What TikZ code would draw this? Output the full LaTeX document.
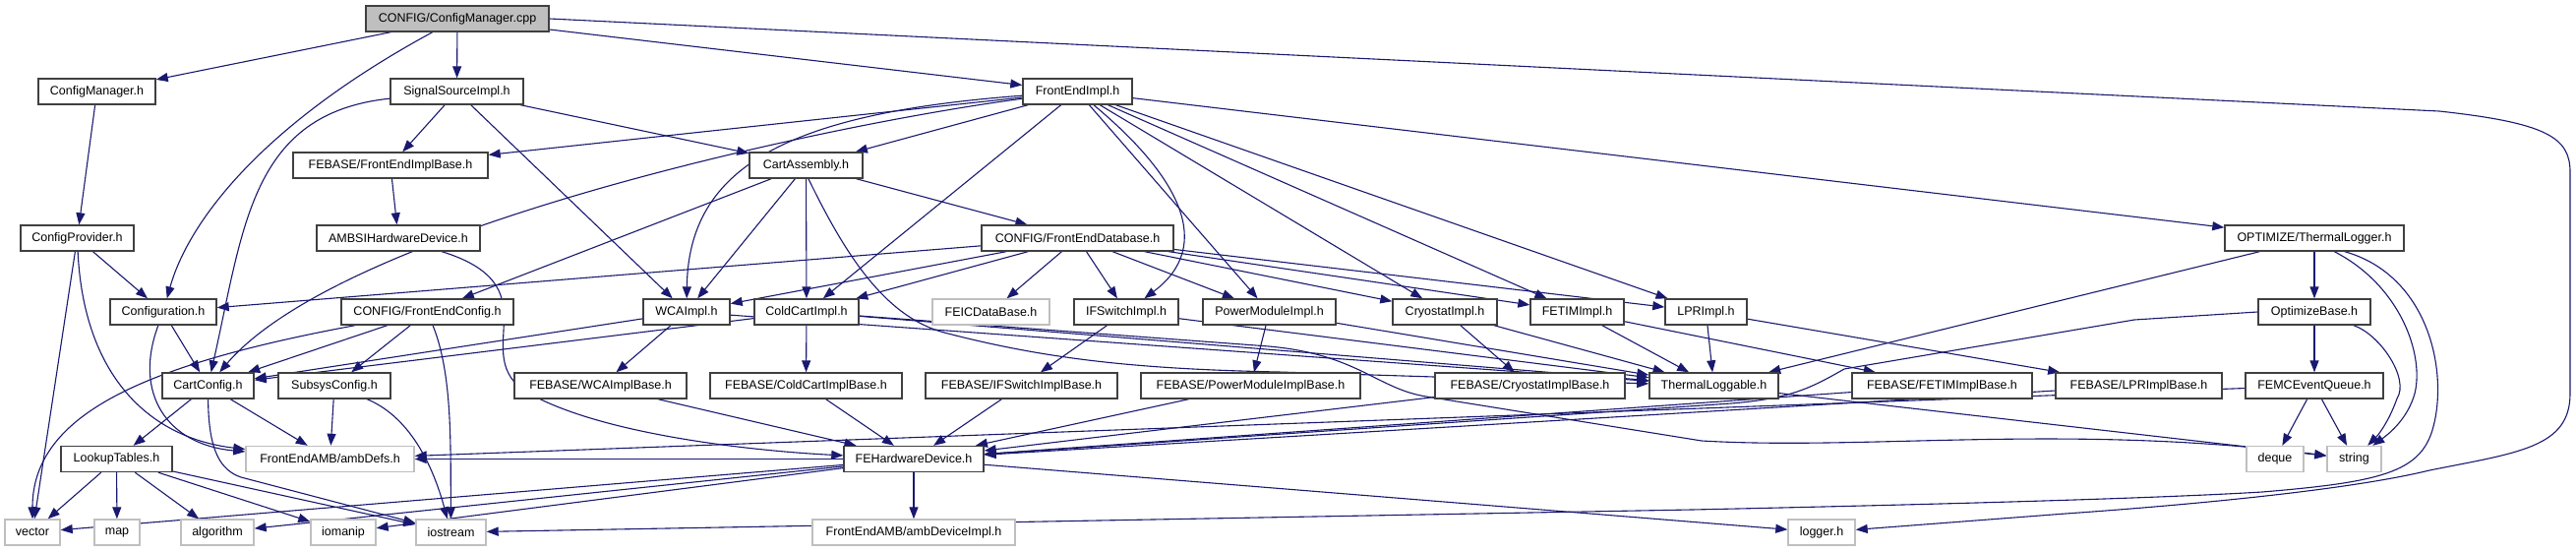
\documentclass[tikz,border=0pt]{standalone}
\usepackage{fontspec}
\setmainfont{Liberation Sans}
\usetikzlibrary{arrows.meta}
\definecolor{edgec}{HTML}{191970}
\definecolor{rootfill}{HTML}{BFBFBF}
\definecolor{gborder}{HTML}{BFBFBF}
\definecolor{bborder}{HTML}{404040}
\pgfdeclarelayer{edges}
\pgfsetlayers{edges,main}
\begin{document}
\begin{tikzpicture}[x=1pt,y=-1pt,
  box/.style={draw=bborder, line width=1.4pt, fill=white, minimum height=26pt, inner sep=0pt, font=\fontsize{12.5}{15}\selectfont},
  gbox/.style={box, draw=gborder},
  rootbox/.style={box, fill=rootfill},
  dep/.style={draw=edgec, line width=1.1pt, -{Triangle[length=12pt,width=9pt]}}]
\useasboundingbox (0,0) rectangle (2619,560);
% row 0
\node[rootbox, minimum width=186pt] (root) at (465,19) {CONFIG/ConfigManager.cpp};
% row 1
\node[box, minimum width=119pt] (cmh) at (98.5,93) {ConfigManager.h};
\node[box, minimum width=135pt] (ssi) at (464.5,93) {SignalSourceImpl.h};
\node[box, minimum width=111pt] (fei) at (1095.5,93) {FrontEndImpl.h};
% row 2
\node[box, minimum width=198pt] (feib) at (397,168) {FEBASE/FrontEndImplBase.h};
\node[box, minimum width=115pt] (ca) at (819.5,168) {CartAssembly.h};
% row 3
\node[box, minimum width=115pt] (cp) at (78.5,242) {ConfigProvider.h};
\node[box, minimum width=166pt] (ambsi) at (405,242) {AMBSIHardwareDevice.h};
\node[box, minimum width=195pt] (fedb) at (1095.5,242) {CONFIG/FrontEndDatabase.h};
\node[box, minimum width=182pt] (tl) at (2353,242) {OPTIMIZE/ThermalLogger.h};
% row 4
\node[box, minimum width=108pt] (conf) at (166,317) {Configuration.h};
\node[box, minimum width=175pt] (fec) at (434.5,317) {CONFIG/FrontEndConfig.h};
\node[box, minimum width=88pt] (wca) at (698,317) {WCAImpl.h};
\node[box, minimum width=106pt] (cc) at (820,317) {ColdCartImpl.h};
\node[gbox, minimum width=119pt] (feic) at (1007.5,317) {FEICDataBase.h};
\node[box, minimum width=106pt] (ifs) at (1145,317) {IFSwitchImpl.h};
\node[box, minimum width=135pt] (pm) at (1290.5,317) {PowerModuleImpl.h};
\node[box, minimum width=106pt] (cry) at (1469,317) {CryostatImpl.h};
\node[box, minimum width=95pt] (fetim) at (1603.5,317) {FETIMImpl.h};
\node[box, minimum width=83pt] (lpr) at (1734.5,317) {LPRImpl.h};
\node[box, minimum width=114pt] (ob) at (2353,317) {OptimizeBase.h};
% row 5
\node[box, minimum width=93pt] (cc2) at (211.5,392) {CartConfig.h};
\node[box, minimum width=114pt] (ss) at (340,392) {SubsysConfig.h};
\node[box, minimum width=175pt] (wcab) at (610.5,392) {FEBASE/WCAImplBase.h};
\node[box, minimum width=195pt] (ccb) at (819.5,392) {FEBASE/ColdCartImplBase.h};
\node[box, minimum width=195pt] (ifsb) at (1038.5,392) {FEBASE/IFSwitchImplBase.h};
\node[box, minimum width=223pt] (pmb) at (1271.5,392) {FEBASE/PowerModuleImplBase.h};
\node[box, minimum width=193pt] (cryb) at (1555.5,392) {FEBASE/CryostatImplBase.h};
\node[box, minimum width=131pt] (tlg) at (1742.5,392) {ThermalLoggable.h};
\node[box, minimum width=183pt] (fetimb) at (1974.5,392) {FEBASE/FETIMImplBase.h};
\node[box, minimum width=169pt] (lprb) at (2174.5,392) {FEBASE/LPRImplBase.h};
\node[box, minimum width=140pt] (femc) at (2353,392) {FEMCEventQueue.h};
% row 6
\node[box, minimum width=113pt] (lt) at (118.5,466.5) {LookupTables.h};
\node[gbox, minimum width=171pt] (amb) at (335.5,466.5) {FrontEndAMB/ambDefs.h};
\node[box, minimum width=142pt] (fehw) at (929,466.5) {FEHardwareDevice.h};
\node[gbox, minimum width=58pt] (deq) at (2313,466.5) {deque};
\node[gbox, minimum width=55pt] (str) at (2393.5,466.5) {string};
% row 7
\node[gbox, minimum width=56pt] (vec) at (33,541) {vector};
\node[gbox, minimum width=46pt] (map) at (119,541) {map};
\node[gbox, minimum width=74pt] (alg) at (221,541) {algorithm};
\node[gbox, minimum width=66pt] (ioman) at (349,541) {iomanip};
\node[gbox, minimum width=71pt] (ios) at (458.5,541) {iostream};
\node[gbox, minimum width=206pt] (ambdi) at (929,541) {FrontEndAMB/ambDeviceImpl.h};
\node[gbox, minimum width=68pt] (log) at (1852,541) {logger.h};

\begin{pgfonlayer}{edges}
\fill[white] (0,0) rectangle (2619,560);
% root
\draw[dep] (root) -- (cmh);
\draw[dep] (root) -- (ssi);
\draw[dep] (root) -- (fei);
\draw[dep] (root) .. controls (260,130) and (190,230) .. (conf);
\draw[dep] (root.east) -- (2480,113) .. controls (2590,125) and (2613,140) .. (2613,175) -- (2613,400)
   .. controls (2613,455) and (2560,460) .. (2470,478) .. controls (2380,500) and (2200,515) .. (2100,522) -- (log);
% ConfigManager / ConfigProvider
\draw[dep] (cmh) -- (cp);
\draw[dep] (cp) -- (conf);
\draw[dep] (cp) -- (vec);
\draw[dep] (cp) .. controls (85,380) and (150,445) .. (amb);
% SignalSourceImpl
\draw[dep] (ssi) -- (feib);
\draw[dep] (ssi) -- (ca);
\draw[dep] (ssi) -- (wca);
\draw[dep] (ssi) .. controls (255,115) and (248,230) .. (cc2);
% FrontEndImpl
\draw[dep] (fei) -- (feib);
\draw[dep] (fei) -- (ca);
\draw[dep] (fei) .. controls (850,125) and (350,230) .. (cc2);
\draw[dep] (fei) .. controls (800,115) and (700,170) .. (wca);
\draw[dep] (fei) -- (cc);
\draw[dep] (fei) .. controls (1200,180) and (1235,250) .. (ifs);
\draw[dep] (fei) -- (pm);
\draw[dep] (fei) -- (cry);
\draw[dep] (fei) -- (fetim);
\draw[dep] (fei) -- (lpr);
\draw[dep] (fei) -- (tl);
% FrontEndImplBase
\draw[dep] (feib) -- (ambsi);
\draw[dep] (ambsi) .. controls (560,290) and (480,355) .. (530,395) .. controls (600,440) and (760,458) .. (fehw);
% CartAssembly
\draw[dep] (ca) -- (fedb);
\draw[dep] (ca) -- (fec);
\draw[dep] (ca) -- (wca);
\draw[dep] (ca) -- (cc);
\draw[dep] (ca.-80) .. controls (860,260) and (900,322) .. (960,338) .. controls (1060,364) and (1150,375) .. (1300,378) -- (tlg);
% FrontEndDatabase
\draw[dep] (fedb) -- (conf);
\draw[dep] (fedb) -- (wca);
\draw[dep] (fedb) -- (cc);
\draw[dep] (fedb) -- (feic);
\draw[dep] (fedb) -- (ifs);
\draw[dep] (fedb) -- (pm);
\draw[dep] (fedb) -- (cry);
\draw[dep] (fedb) -- (fetim);
\draw[dep] (fedb) -- (lpr);
% ThermalLogger
\draw[dep] (tl) -- (tlg);
\draw[dep] (tl) -- (ob);
\draw[dep] (tl.-34) .. controls (2440,290) and (2465,360) .. (2455,400) .. controls (2448,425) and (2430,440) .. (str);
\draw[dep] (tl.-24) .. controls (2470,280) and (2490,380) .. (2473,437) .. controls (2460,480) and (2420,490) .. (2300,500)
   .. controls (2200,506) and (2000,512) .. (1720,518) -- (ios);
% OptimizeBase / FEMCEventQueue
\draw[dep] (ob) -- (femc);
\draw[dep] (ob) .. controls (2420,340) and (2450,385) .. (2437,405) .. controls (2430,425) and (2420,440) .. (str);
\draw[dep] (ob.west) -- (2170,325) -- (1875,375) .. controls (1840,395) and (1820,405) .. (1760,410) -- (fehw);
\draw[dep] (femc) -- (deq);
\draw[dep] (femc) -- (str);
\draw[dep] (femc) -- (amb);
% Configuration, FrontEndConfig, SubsysConfig
\draw[dep] (conf) -- (cc2);
\draw[dep] (conf) .. controls (135,400) and (170,452) .. (amb);
\draw[dep] (fec) -- (cc2);
\draw[dep] (fec) -- (ss);
\draw[dep] (fec) .. controls (150,370) and (33,420) .. (vec);
\draw[dep] (fec) .. controls (460,380) and (458,450) .. (ios);
\draw[dep] (ss) -- (amb);
\draw[dep] (ss) .. controls (420,425) and (442,480) .. (ios);
% Impl headers
\draw[dep] (wca) -- (cc2);
\draw[dep] (wca) -- (wcab);
\draw[dep] (wca) -- (tlg);
\draw[dep] (cc) -- (cc2);
\draw[dep] (cc) -- (ccb);
\draw[dep] (cc) -- (tlg);
\draw[dep] (cc) -- (1290,352) .. controls (1380,360) and (1400,395) .. (1450,403) -- (1730,448) .. controls (1900,458) and (2100,430) .. (str);
\draw[dep] (ifs) -- (ifsb);
\draw[dep] (ifs) -- (tlg);
\draw[dep] (pm) -- (pmb);
\draw[dep] (pm) -- (tlg);
\draw[dep] (cry) -- (cryb);
\draw[dep] (cry) -- (tlg);
\draw[dep] (fetim) -- (tlg);
\draw[dep] (fetim) -- (fetimb);
\draw[dep] (lpr) -- (tlg);
\draw[dep] (lpr) -- (lprb);
\draw[dep] (tlg) -- (str);
% ImplBase -> FEHardwareDevice
\draw[dep] (wcab) -- (fehw);
\draw[dep] (ccb) -- (fehw);
\draw[dep] (ifsb) -- (fehw);
\draw[dep] (pmb) -- (fehw);
\draw[dep] (cryb) -- (fehw);
\draw[dep] (fetimb) -- (fehw);
\draw[dep] (lprb) -- (fehw);
% FEHardwareDevice
\draw[dep] (fehw) -- (amb);
\draw[dep] (fehw) -- (vec);
\draw[dep] (fehw) -- (alg);
\draw[dep] (fehw) -- (ioman);
\draw[dep] (fehw) -- (ambdi);
\draw[dep] (fehw) -- (log);
% CartConfig, LookupTables
\draw[dep] (cc2) -- (lt);
\draw[dep] (cc2) -- (amb);
\draw[dep] (cc2) .. controls (212,460) and (225,478) .. (245,485) -- (ios);
\draw[dep] (lt) -- (vec);
\draw[dep] (lt) -- (map);
\draw[dep] (lt) -- (alg);
\draw[dep] (lt) -- (ioman);
\draw[dep] (lt) -- (ios);
\end{pgfonlayer}
\end{tikzpicture}
\end{document}
